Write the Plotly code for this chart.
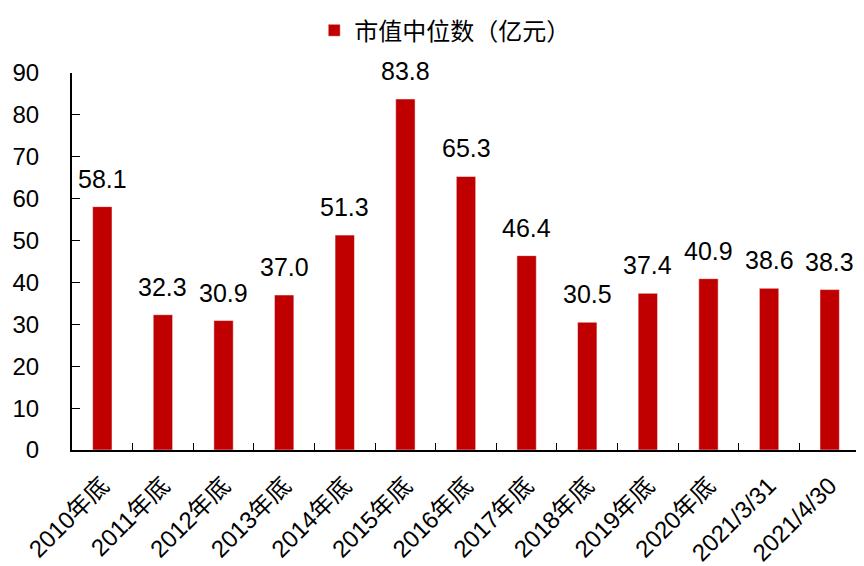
import plotly.graph_objects as go

categories = ["2010年底", "2011年底", "2012年底", "2013年底", "2014年底", "2015年底",
              "2016年底", "2017年底", "2018年底", "2019年底", "2020年底",
              "2021/3/31", "2021/4/30"]
median_cap = [58.1, 32.3, 30.9, 37.0, 51.3, 83.8, 65.3, 46.4, 30.5, 37.4, 40.9, 38.6, 38.3]
y_ticks = [0, 10, 20, 30, 40, 50, 60, 70, 80, 90]

font_family = "Liberation Sans, Arial, Noto Sans CJK SC, sans-serif"

fig = go.Figure()

fig.add_trace(go.Bar(
    x=categories,
    y=median_cap,
    name="市值中位数（亿元）",
    marker_color="#C00000",
))

# value labels above bars
for c, v in zip(categories, median_cap):
    fig.add_annotation(
        x=c, y=v, text=f"{v:.1f}",
        showarrow=False, yanchor="bottom", yshift=12,
        font=dict(size=25, color="#000000", family=font_family),
    )

# page has an 8px body margin, so the figure is sized to fit the window
fig.update_layout(
    template="plotly_white",
    width=856,
    height=558,
    margin=dict(l=64, r=4, t=65, b=116, autoexpand=False),
    font=dict(family=font_family, color="#000000"),
    bargap=0.68,
    showlegend=True,
    legend=dict(
        orientation="h",
        x=0.473,
        xanchor="center",
        y=1.172,
        yanchor="top",
        font=dict(size=24, family="Noto Sans CJK SC, sans-serif"),
    ),
    xaxis=dict(
        automargin=False,
        showgrid=False,
        showline=True,
        linecolor="#000000",
        linewidth=2,
        ticks="inside",
        tickson="boundaries",
        ticklen=7,
        tickcolor="#000000",
        tickangle=-45,
        ticklabelstandoff=10,
        tickfont=dict(size=24, family=font_family),
    ),
    yaxis=dict(
        automargin=False,
        range=[0, 90],
        tickvals=y_ticks,
        showgrid=False,
        zeroline=False,
        showline=True,
        linecolor="#000000",
        linewidth=2,
        ticks="inside",
        ticklen=8,
        tickcolor="#000000",
        ticklabelstandoff=26,
        tickfont=dict(size=24, family=font_family),
    ),
)

fig.write_html("out.html")
